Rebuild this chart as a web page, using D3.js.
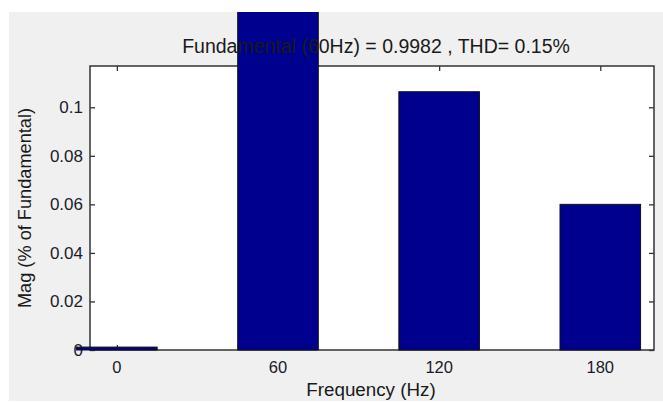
<!DOCTYPE html>
<html><head><meta charset="utf-8">
<script src="https://cdn.jsdelivr.net/npm/d3@7"></script>
<style>
html,body{margin:0;padding:0;background:#fff;}
text{font-family:"Liberation Sans",Arial,sans-serif;}
</style></head>
<body>
<svg id="c" width="663" height="403"></svg>
<script>
const frequencies = [0, 60, 120, 180];
const magnitudes = [0.0012, 100, 0.1064, 0.0600];
const yTicks = [0, 0.02, 0.04, 0.06, 0.08, 0.1];
const yTickLabels = ["0", "0.02", "0.04", "0.06", "0.08", "0.1"];
const xTicks = [0, 60, 120, 180];
const titleText = "Fundamental (60Hz) = 0.9982 , THD= 0.15%";
const xLabel = "Frequency (Hz)";
const yLabel = "Mag (% of Fundamental)";

const svg = d3.select("#c");
const L = 90, R = 654, T = 66, B = 350;
const x = d3.scaleLinear().domain([-10, 200]).range([L, R]);
const y = d3.scaleLinear().domain([0, 0.117]).range([B, T]);
const barW = x(15) - x(-15);

// figure background
svg.append("rect").attr("x", 9).attr("y", 12).attr("width", 654).attr("height", 389).attr("fill", "#f0f0f0");
svg.append("clipPath").attr("id", "fig").append("rect").attr("x", 9).attr("y", 12).attr("width", 654).attr("height", 389);

// axes area
svg.append("rect").attr("x", L).attr("y", T).attr("width", R - L).attr("height", B - T).attr("fill", "#fff");

// y tick labels (drawn before bars so bar 0 covers "0")
svg.append("g").selectAll("text").data(yTicks).join("text")
  .attr("x", L - 7).attr("y", d => y(d) + 6)
  .attr("text-anchor", "end").attr("font-size", 17).attr("fill", "#1a1a2a")
  .text((d, i) => yTickLabels[i]);

// frame and ticks via d3 axes
const tk = 5;
svg.append("g").attr("transform", `translate(${L},0)`)
  .call(d3.axisRight(y).tickValues(yTicks).tickSize(tk).tickFormat(""))
  .call(g => g.select(".domain").remove());
svg.append("g").attr("transform", `translate(${R},0)`)
  .call(d3.axisLeft(y).tickValues(yTicks).tickSize(tk).tickFormat(""))
  .call(g => g.select(".domain").remove());
svg.append("g").attr("transform", `translate(0,${T})`)
  .call(d3.axisBottom(x).tickValues(xTicks).tickSize(tk).tickFormat(""))
  .call(g => g.select(".domain").remove());
svg.append("g").attr("transform", `translate(0,${B})`)
  .call(d3.axisTop(x).tickValues(xTicks).tickSize(tk).tickFormat(""))
  .call(g => g.select(".domain").remove());
svg.selectAll(".tick line").attr("stroke", "#333").attr("stroke-width", 1.3);
svg.append("rect").attr("x", L).attr("y", T).attr("width", R - L).attr("height", B - T)
  .attr("fill", "none").attr("stroke", "#333").attr("stroke-width", 1.5);

// bars
svg.append("g").attr("clip-path", "url(#fig)")
  .selectAll("rect").data(frequencies).join("rect")
  .attr("x", d => x(d) - barW / 2)
  .attr("width", barW)
  .attr("y", (d, i) => y(magnitudes[i]))
  .attr("height", (d, i) => Math.max(2.5, y(0) - y(magnitudes[i])))
  .attr("fill", "#00008f").attr("stroke", "#111").attr("stroke-width", 1);

// x tick labels
svg.append("g").selectAll("text").data(xTicks).join("text")
  .attr("x", d => x(d)).attr("y", 373)
  .attr("text-anchor", "middle").attr("font-size", 16.5).attr("fill", "#1a1a2a")
  .text(d => d);

// title
svg.append("text").attr("x", 376).attr("y", 53).attr("text-anchor", "middle")
  .attr("font-size", 19.5).attr("fill", "#1a1a1a").text(titleText);

// axis labels
svg.append("text").attr("x", 371).attr("y", 396).attr("text-anchor", "middle")
  .attr("font-size", 18.8).attr("fill", "#1a1a1a").text(xLabel);
svg.append("text").attr("transform", "translate(31,208) rotate(-90)").attr("text-anchor", "middle")
  .attr("font-size", 18.2).attr("fill", "#1a1a1a").text(yLabel);
</script>
</body></html>
